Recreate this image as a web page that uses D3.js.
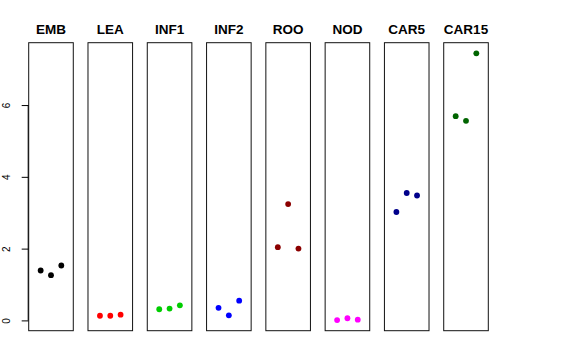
<!DOCTYPE html>
<html><head><meta charset="utf-8">
<script src="https://cdn.jsdelivr.net/npm/d3@7"></script>
<style>body{margin:0;background:#fff;} svg{display:block;}</style>
</head><body>
<svg id="chart" width="576" height="360"></svg>
<script>
const categories = ["EMB","LEA","INF1","INF2","ROO","NOD","CAR5","CAR15"];
const colors = ["#000000","#FF0000","#00CD00","#0000FF","#8B0000","#FF00FF","#00008B","#006400"];
const values = [
  [1.39, 1.26, 1.53],
  [0.13, 0.13, 0.16],
  [0.31, 0.33, 0.42],
  [0.35, 0.14, 0.55],
  [2.04, 3.24, 2.00],
  [0.01, 0.06, 0.02],
  [3.02, 3.55, 3.48],
  [5.69, 5.56, 7.44]
];
const reps = [1, 2, 3];
const yTicks = [0, 2, 4, 6];

(function () {
const svg = d3.select("#chart");
const plotTop = 42.7, plotBottom = 330.7;
const all = values.flat();
const lo = d3.min(all), hi = d3.max(all), ext = (hi - lo) * 0.04;
const y = d3.scaleLinear().domain([lo - ext, hi + ext]).range([plotBottom, plotTop]);
const panel = d3.scaleBand().domain(categories).range([28.7, 488.3]).paddingInner(0.248).paddingOuter(0);
const xin = d3.scaleLinear().domain([-0.16, 4.16]).range([0, panel.bandwidth()]);

// y axis
const axis = d3.axisLeft(y).tickValues(yTicks).tickSize(7).tickFormat(d3.format("d"));
const ag = svg.append("g").attr("transform", `translate(${panel(categories[0])},0)`).call(axis);
ag.select(".domain").attr("d", `M-0.5,${y(0)}V${y(6)}`).attr("stroke", "#000");
ag.selectAll(".tick line").attr("stroke", "#000");
ag.selectAll(".tick text")
  .attr("font-family", "Liberation Sans, Arial, sans-serif").attr("font-size", 10).attr("fill", "#000")
  .attr("x", null).attr("dy", null).attr("text-anchor", "middle")
  .attr("transform", "translate(-22,0) rotate(-90)").attr("y", 0).attr("dominant-baseline", "central");

categories.forEach((c, i) => {
  const g = svg.append("g").attr("transform", `translate(${panel(c)},0)`);
  g.append("rect").attr("x", 0).attr("y", plotTop).attr("width", panel.bandwidth()).attr("height", plotBottom - plotTop)
    .attr("fill", "none").attr("stroke", "#111").attr("stroke-width", 1);
  g.append("text").attr("x", panel.bandwidth() / 2).attr("y", 34).attr("text-anchor", "middle")
    .attr("font-family", "Liberation Sans, Arial, sans-serif").attr("font-weight", "bold").attr("font-size", 13.5)
    .text(c);
  g.selectAll("circle").data(values[i]).join("circle")
    .attr("cx", (d, j) => xin(reps[j])).attr("cy", d => y(d)).attr("r", 2.9).attr("fill", colors[i]);
});
})();
</script>
</body></html>
